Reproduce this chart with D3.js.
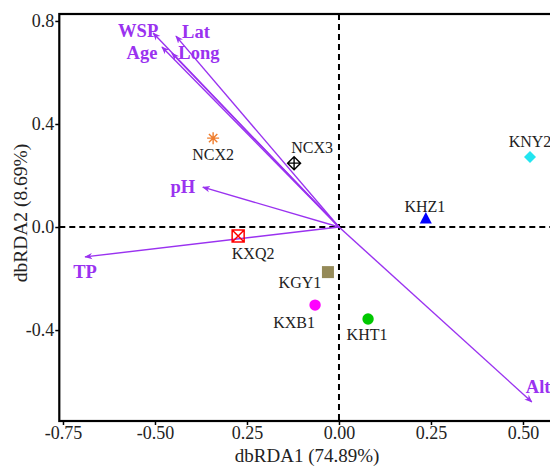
<!DOCTYPE html>
<html>
<head>
<meta charset="utf-8">
<script src="https://d3js.org/d3.v7.min.js"></script>
<style>
  body { margin: 0; background: #fff; }
</style>
</head>
<body>
<svg id="chart" width="550" height="472"></svg>
<script>
// sample scores
var sites  = ["NCX2", "NCX3", "KNY2", "KHZ1", "KXQ2", "KGY1", "KXB1", "KHT1"];
var siteX  = [-0.342, -0.122, 0.519, 0.236, -0.274, -0.030, -0.065, 0.079];
var siteY  = [0.345, 0.248, 0.272, 0.031, -0.035, -0.175, -0.303, -0.357];
var siteColor = ["#ef7d2d", "#000000", "#22e5f0", "#0000ff", "#ff0000", "#958a58", "#ff00ff", "#00c800"];
var siteShape = ["star", "diamondplus", "diamond", "triangle", "squarex", "square", "circle", "circle"];

// environmental vectors
var envs = ["WSP", "Lat", "Age", "Long", "pH", "TP", "Alt"];
var envX = [-0.505, -0.443, -0.481, -0.454, -0.370, -0.690, 0.524];
var envY = [0.753, 0.741, 0.699, 0.675, 0.155, -0.116, -0.679];

var xTicks = [-0.75, -0.5, -0.25, 0, 0.25, 0.5];
var xTickLabels = ["-0.75", "-0.50", "0.25", "0.00", "0.25", "0.50"];
var yTicks = [0.8, 0.4, 0, -0.4];
var yTickLabels = ["0.8", "0.4", "0.0", "-0.4"];

// label offsets (px) relative to the point / arrow tip
var siteLab = {
  NCX2: [0, 22, "middle"], NCX3: [18, -10, "middle"], KNY2: [0, -10, "middle"],
  KHZ1: [-1, -7, "middle"], KXQ2: [15, 23, "middle"], KGY1: [-28, 16, "middle"],
  KXB1: [-21, 23, "middle"], KHT1: [-1, 21, "middle"]
};
var envLab = {
  WSP: [-15, 4, "middle"], Lat: [20, 2, "middle"], Age: [-20, 12, "middle"],
  Long: [27, 6, "middle"], pH: [-20, 6, "middle"], TP: [0, 21, "middle"],
  Alt: [-6, -9, "start"]
};

var serif = "Liberation Serif";
var svg = d3.select("#chart");
var x = d3.scaleLinear().domain([-0.76, 0.587]).range([59.3, 555]);
var y = d3.scaleLinear().domain([-0.753, 0.827]).range([421, 14]);

var purple = "#9a32f0";

svg.append("defs").append("marker")
    .attr("id", "ah")
    .attr("viewBox", "0 0 10 10")
    .attr("refX", 9).attr("refY", 5)
    .attr("markerWidth", 8).attr("markerHeight", 8)
    .attr("markerUnits", "userSpaceOnUse")
    .attr("orient", "auto")
  .append("path")
    .attr("d", "M0,1 L10,5 L0,9 L3,5 Z")
    .attr("fill", purple);

// zero lines
svg.append("line")
    .attr("x1", x(-0.76)).attr("x2", x(0.587)).attr("y1", y(0)).attr("y2", y(0))
    .attr("stroke", "#000").attr("stroke-width", 2).attr("stroke-dasharray", "6,4");
svg.append("line")
    .attr("x1", x(0)).attr("x2", x(0)).attr("y1", y(0.827)).attr("y2", y(-0.753))
    .attr("stroke", "#000").attr("stroke-width", 2).attr("stroke-dasharray", "6,4");

// axes
svg.append("g")
    .attr("transform", "translate(0," + y(-0.753) + ")")
    .call(d3.axisBottom(x).tickValues(xTicks).tickSize(4).tickPadding(1)
      .tickFormat(function(d, i) { return xTickLabels[i]; }));
svg.append("g")
    .attr("transform", "translate(" + x(-0.76) + ",0)")
    .call(d3.axisLeft(y).tickValues(yTicks).tickSize(4).tickPadding(1)
      .tickFormat(function(d, i) { return yTickLabels[i]; }));
svg.selectAll(".domain").remove();
svg.selectAll(".tick line").attr("stroke", "#000").attr("stroke-width", 1.5);
svg.selectAll(".tick text").attr("font-size", 18).attr("fill", "#222");

// frame
svg.append("rect")
    .attr("x", x(-0.76)).attr("y", y(0.827))
    .attr("width", x(0.587) - x(-0.76)).attr("height", y(-0.753) - y(0.827))
    .attr("fill", "none").attr("stroke", "#000").attr("stroke-width", 2.2);

// titles
svg.append("text").attr("font-size", 19).attr("fill", "#222")
    .attr("x", (x(-0.76) + x(0.587)) / 2).attr("y", 462).attr("text-anchor", "middle")
    .text("dbRDA1 (74.89%)");
svg.append("text").attr("font-size", 19.5).attr("fill", "#222")
    .attr("transform", "translate(27,213) rotate(-90)")
    .attr("text-anchor", "middle")
    .text("dbRDA2 (8.69%)");

// env arrows
envs.forEach(function(n, i) {
  svg.append("line")
      .attr("x1", x(0)).attr("y1", y(0))
      .attr("x2", x(envX[i])).attr("y2", y(envY[i]))
      .attr("stroke", purple).attr("stroke-width", 1.4)
      .attr("marker-end", "url(#ah)");
  var o = envLab[n];
  svg.append("text")
      .attr("font-size", 18.5).attr("font-weight", "bold").attr("fill", purple)
      .attr("x", x(envX[i]) + o[0]).attr("y", y(envY[i]) + o[1])
      .attr("text-anchor", o[2])
      .text(n);
});

// site points
var sym = {
  star: function(g, c) {
    var s = 6;
    g.append("path").attr("d",
      "M" + (-s) + ",0H" + s + "M0," + (-s) + "V" + s +
      "M" + (-s * 0.7) + "," + (-s * 0.7) + "L" + (s * 0.7) + "," + (s * 0.7) +
      "M" + (-s * 0.7) + "," + (s * 0.7) + "L" + (s * 0.7) + "," + (-s * 0.7))
      .attr("stroke", c).attr("stroke-width", 1.4).attr("fill", "none");
  },
  diamondplus: function(g, c) {
    var s = 6.5;
    g.append("path").attr("d",
      "M0," + (-s) + "L" + s + ",0L0," + s + "L" + (-s) + ",0Z" +
      "M" + (-s) + ",0H" + s + "M0," + (-s) + "V" + s)
      .attr("stroke", c).attr("stroke-width", 1.4).attr("fill", "none");
  },
  diamond: function(g, c) {
    g.append("path").attr("d", "M0,-6L6,0L0,6L-6,0Z").attr("fill", c);
  },
  triangle: function(g, c) {
    g.append("path").attr("d", "M0,-7L6,4.5L-6,4.5Z").attr("fill", c);
  },
  squarex: function(g, c) {
    g.append("path").attr("d", "M-6,-6H6V6H-6Z M-6,-6L6,6 M-6,6L6,-6")
      .attr("stroke", c).attr("stroke-width", 1.5).attr("fill", "none");
  },
  square: function(g, c) {
    g.append("rect").attr("x", -6).attr("y", -6).attr("width", 12).attr("height", 12).attr("fill", c);
  },
  circle: function(g, c) {
    g.append("circle").attr("r", 5.7).attr("fill", c);
  }
};

sites.forEach(function(n, i) {
  var g = svg.append("g")
      .attr("transform", "translate(" + x(siteX[i]) + "," + y(siteY[i]) + ")");
  sym[siteShape[i]](g, siteColor[i]);
  var o = siteLab[n];
  svg.append("text")
      .attr("font-size", 16).attr("fill", "#222")
      .attr("x", x(siteX[i]) + o[0]).attr("y", y(siteY[i]) + o[1])
      .attr("text-anchor", o[2])
      .text(n);
});

// everything in a Times-like face
svg.selectAll("g").attr("font-family", null);
svg.selectAll("text").attr("font-family", serif);
</script>
</body>
</html>
